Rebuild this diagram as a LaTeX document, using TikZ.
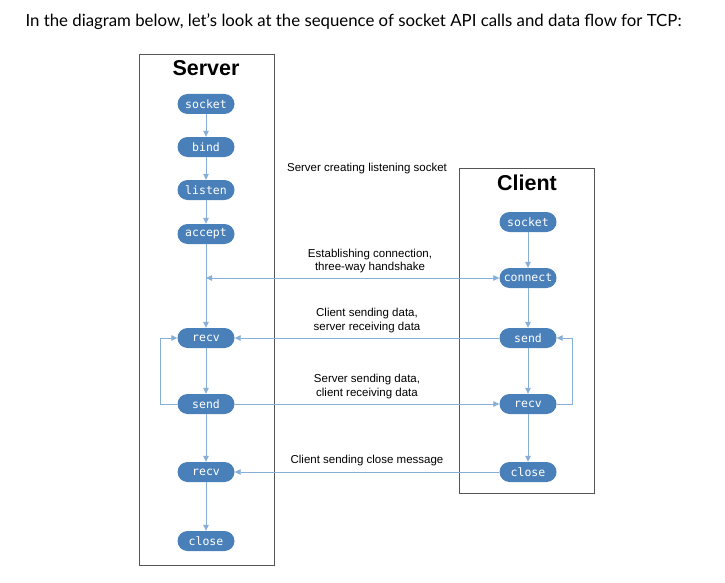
\documentclass[tikz,border=0pt]{standalone}
\usepackage{fontspec}
\newfontfamily\arialf{Liberation Sans}
\newfontfamily\monof{DejaVu Sans Mono}
\newfontfamily\headf{Lato}
\usetikzlibrary{arrows.meta}
\definecolor{nodeblue}{HTML}{4A80B9}
\definecolor{arrowblue}{HTML}{86AED6}
\definecolor{boxgray}{HTML}{555555}
\begin{document}
\begin{tikzpicture}[x=1pt,y=-1pt,
  call/.style={fill=nodeblue,text=white,rounded corners=10pt,minimum width=57pt,minimum height=20pt,inner sep=0pt,font=\monof\fontsize{11.5}{13}\selectfont},
  flow/.style={draw=arrowblue,line width=0.8pt,-{Triangle[width=5.5pt,length=6pt]}},
  panel/.style={draw=boxgray,line width=0.8pt},
  title/.style={font=\arialf\bfseries\fontsize{21.5}{24}\selectfont},
  lbl/.style={font=\arialf\fontsize{11.5}{13.2}\selectfont,align=center}]
\useasboundingbox (0,0) rectangle (725,583);
\node[anchor=west,font=\headf\fontsize{16.8}{20}\selectfont] (head) at (22,22) {In the diagram below, let’s look at the sequence of socket API calls and data flow for TCP:};
% panels
\node[panel,minimum width=135pt,minimum height=511pt,inner sep=0pt] (spanel) at (206.5,309.5) {};
\node[panel,minimum width=135pt,minimum height=325pt,inner sep=0pt] (cpanel) at (526.5,330.5) {};
\node[title] (stitle) at (206,68) {Server};
\node[title] (ctitle) at (527,183) {Client};
% server nodes
\node[call] (ssocket) at (206,104) {socket};
\node[call] (sbind) at (206,147) {bind};
\node[call] (slisten) at (206,190) {listen};
\node[call] (saccept) at (206,234) {accept};
\node[call] (srecv) at (206,338) {recv};
\node[call] (ssend) at (206,404) {send};
\node[call] (srecvb) at (206,472) {recv};
\node[call] (sclose) at (206,541) {close};
% client nodes
\node[call] (csocket) at (528,222) {socket};
\node[call] (cconnect) at (528,278) {connect};
\node[call] (csend) at (528,338) {send};
\node[call] (crecv) at (528,404) {recv};
\node[call] (cclose) at (528,472) {close};
% labels
\node[lbl] (l1) at (367,169) {Server creating listening socket};
\node[lbl] (l2) at (370,261) {Establishing connection,\\three-way handshake};
\node[lbl] (l3) at (367,320.5) {Client sending data,\\server receiving data};
\node[lbl] (l4) at (367,386.5) {Server sending data,\\client receiving data};
\node[lbl] (l5) at (367,461) {Client sending close message};
% server flow
\draw[flow] (ssocket) -- (sbind);
\draw[flow] (sbind) -- (slisten);
\draw[flow] (slisten) -- (saccept);
\draw[flow] (saccept) -- (srecv);
\draw[flow] (srecv) -- (ssend);
\draw[flow] (ssend) -- (srecvb);
\draw[flow] (srecvb) -- (sclose);
\draw[flow] (ssend.west) -- (160,404) -- (160,338) -- (srecv.west);
% client flow
\draw[flow] (csocket) -- (cconnect);
\draw[flow] (cconnect) -- (csend);
\draw[flow] (csend) -- (crecv);
\draw[flow] (crecv) -- (cclose);
\draw[flow] (crecv.east) -- (572,404) -- (572,338) -- (csend.east);
% cross flows
\coordinate (hs) at (206,278);
\draw[flow,{Triangle[width=5.5pt,length=6pt]}-{Triangle[width=5.5pt,length=6pt]}] (hs) -- (cconnect.west);
\draw[flow] (csend.west) -- (srecv.east);
\draw[flow] (ssend.east) -- (crecv.west);
\draw[flow] (cclose.west) -- (srecvb.east);
\end{tikzpicture}
\end{document}
